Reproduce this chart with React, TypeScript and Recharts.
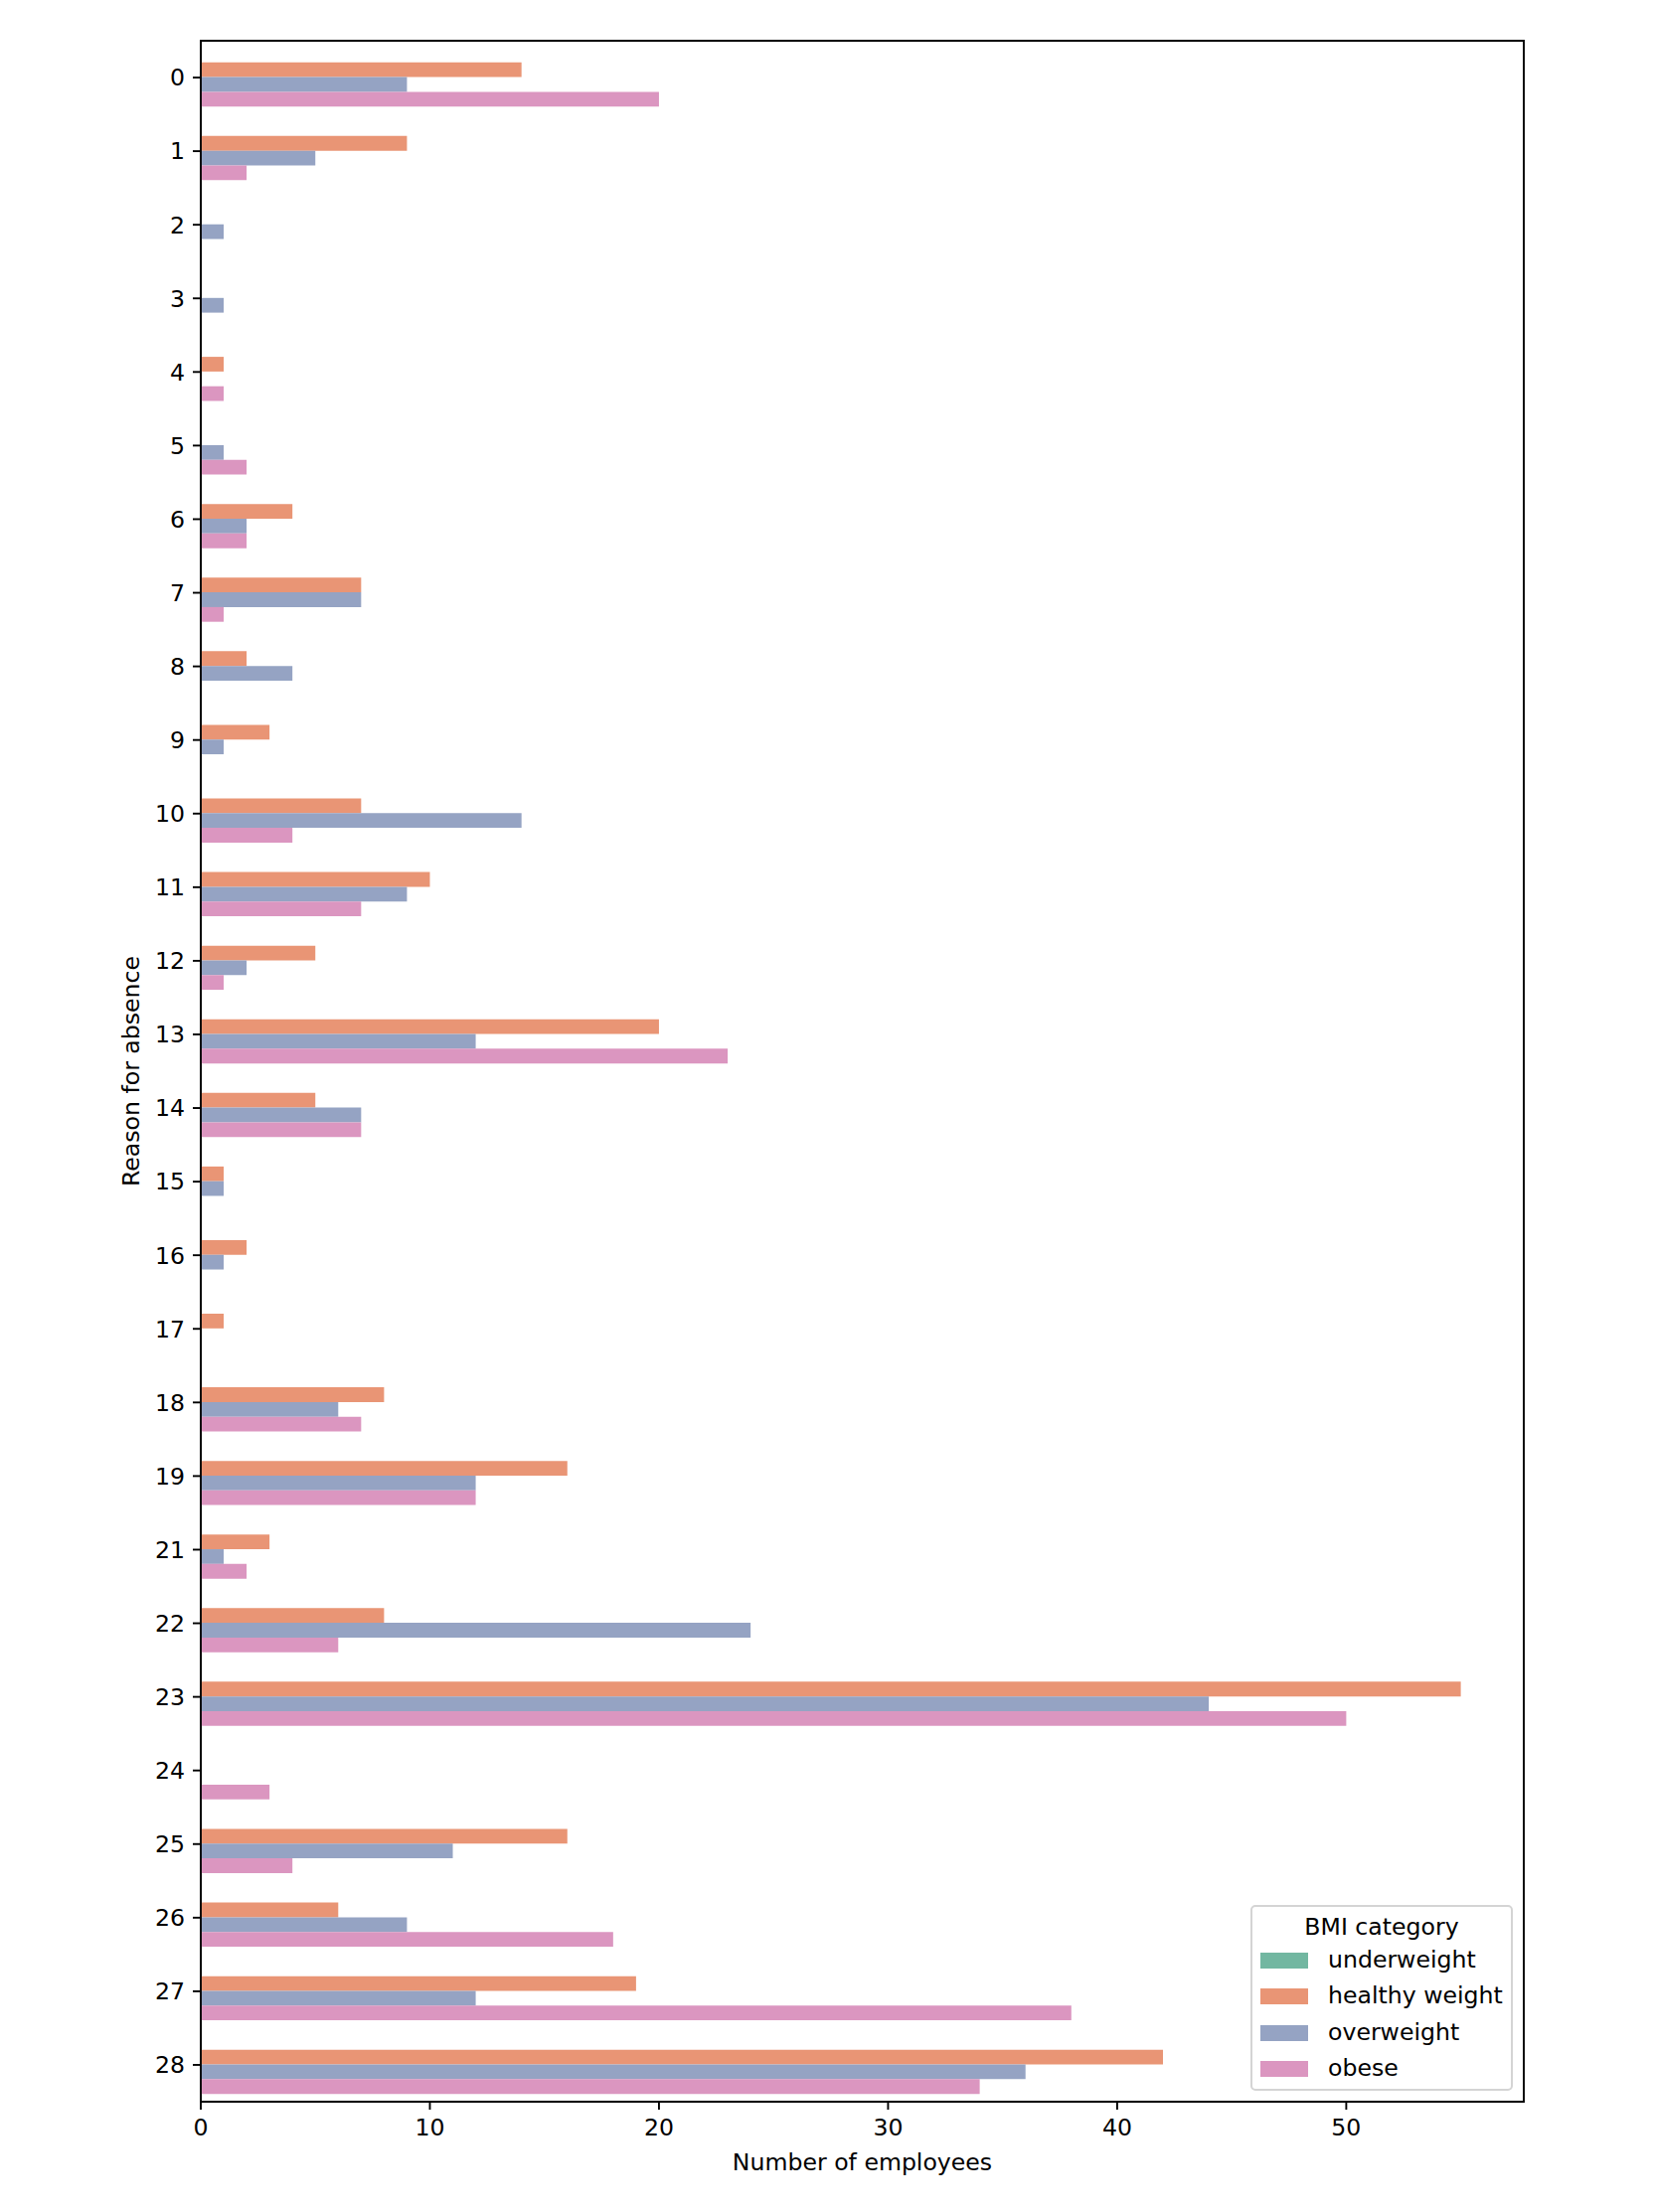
import React from 'react';
import { BarChart, Bar, XAxis, YAxis, Legend, ReferenceArea } from 'recharts';

const reasons = ['0','1','2','3','4','5','6','7','8','9','10','11','12','13','14','15','16','17','18','19','21','22','23','24','25','26','27','28'];
const underweight = [0,0,0,0,0,0,0,0,0,0,0,0,0,0,0,0,0,0,0,0,0,0,0,0,0,0,0,0];
const healthyWeight = [14,9,0,0,1,0,4,7,2,3,7,10,5,20,5,1,2,1,8,16,3,8,55,0,16,6,19,42];
const overweight = [9,5,1,1,0,1,2,7,4,1,14,9,2,12,7,1,1,0,6,12,1,24,44,0,11,9,12,36];
const obese = [20,2,0,0,1,2,2,1,0,0,4,7,1,23,7,0,0,0,7,12,2,6,50,3,4,18,38,34];
const xTicks = [0, 10, 20, 30, 40, 50];
const xDomain = [0, 57.75];

const seriesNames = ['underweight', 'healthy weight', 'overweight', 'obese'];
const seriesColors = ['#72b7a1', '#e99575', '#95a3c3', '#db96c0'];

const data = reasons.map((r, i) => ({
  reason: r,
  underweight: underweight[i],
  healthy: healthyWeight[i],
  overweight: overweight[i],
  obese: obese[i],
}));
const keys = ['underweight', 'healthy', 'overweight', 'obese'];

const FONT = 'DejaVu Sans, sans-serif';
const FS = 23.6;

const LegendBox = () => (
  <div
    style={{
      position: 'relative',
      width: 264,
      height: 187,
      boxSizing: 'border-box',
      border: '2px solid #d4d4d4',
      borderRadius: 5,
      background: 'rgba(255,255,255,0.8)',
      fontFamily: FONT,
      fontSize: FS,
      color: '#000',
    }}
  >
    <div style={{ position: 'absolute', left: 0, width: '100%', top: 20 - 15, lineHeight: '30px', textAlign: 'center' }}>
      BMI category
    </div>
    {seriesNames.map((n, i) => {
      const cy = [56, 92, 129, 165][i];
      return (
        <React.Fragment key={n}>
          <div style={{ position: 'absolute', left: 8, top: cy - 8 - 2, width: 48, height: 16, background: seriesColors[i] }} />
          <div style={{ position: 'absolute', left: 76, top: cy - 15 - 3, lineHeight: '30px', whiteSpace: 'nowrap' }}>{n}</div>
        </React.Fragment>
      );
    })}
  </div>
);

export default function App() {
  return (
    <div style={{ position: 'absolute', left: 0, top: 0, width: 1665, height: 2226, background: '#fff' }}>
      <BarChart
        width={1665}
        height={2226}
        data={data}
        layout="vertical"
        margin={{ top: 41, right: 132, left: 0, bottom: 0 }}
        barSize={14.8}
        barGap={0}
      >
        <XAxis
          type="number"
          domain={xDomain}
          ticks={xTicks}
          height={111}
          tickSize={8}
          tickMargin={9}
          allowDataOverflow
          axisLine={{ stroke: '#000', strokeWidth: 1.9 }}
          tickLine={{ stroke: '#000', strokeWidth: 1.9 }}
          tick={{ fill: '#000', fontSize: FS, fontFamily: FONT }}
          label={{ value: 'Number of employees', position: 'insideBottom', offset: 42, fill: '#000', fontSize: FS, fontFamily: FONT }}
        />
        <YAxis
          type="category"
          dataKey="reason"
          width={202}
          interval={0}
          tickSize={8}
          tickMargin={8}
          axisLine={{ stroke: '#000', strokeWidth: 1.9 }}
          tickLine={{ stroke: '#000', strokeWidth: 1.9 }}
          tick={{ fill: '#000', fontSize: FS, fontFamily: FONT }}
          label={{ value: 'Reason for absence', angle: -90, position: 'insideLeft', offset: 132, fill: '#000', fontSize: FS, fontFamily: FONT, style: { textAnchor: 'middle' } }}
        />
        {keys.map((k, i) => (
          <Bar key={k} dataKey={k} name={seriesNames[i]} fill={seriesColors[i]} isAnimationActive={false} />
        ))}
        <ReferenceArea x1={xDomain[0]} x2={xDomain[1]} fill="none" fillOpacity={0} stroke="#000" strokeWidth={1.9} />
        <Legend
          layout="vertical"
          align="center"
          verticalAlign="middle"
          content={() => <LegendBox />}
          wrapperStyle={{ position: 'absolute', left: 1258, top: 1917, width: 264, height: 187 }}
        />
      </BarChart>
    </div>
  );
}
